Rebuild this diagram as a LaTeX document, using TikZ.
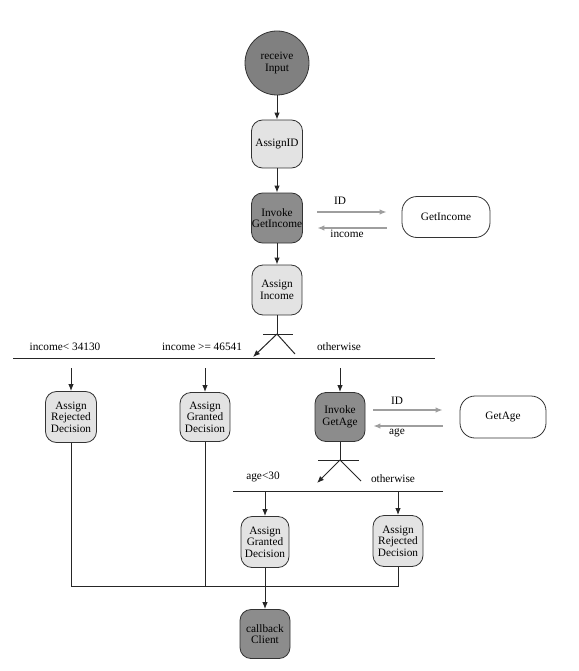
\documentclass[tikz,border=0pt]{standalone}
\usepackage{fontspec}
\setmainfont{Liberation Serif}
\usetikzlibrary{arrows.meta,calc}
\begin{document}
\begin{tikzpicture}[x=1pt,y=-1pt,
 font=\fontsize{11.3}{11.5}\selectfont,
 base/.style={draw=black!80, line width=0.8pt, align=center, inner sep=0pt},
 light/.style={base, fill=black!11, rounded corners=11pt, minimum width=50pt, minimum height=50pt},
 dark/.style={base, fill=black!45, rounded corners=11pt, minimum width=50pt, minimum height=50pt},
 service/.style={base, fill=white, rounded corners=15pt},
 flow/.style={draw=black!85, line width=1pt, -{Latex[length=7pt,width=5.5pt]}},
 plain/.style={draw=black!85, line width=1pt},
 msg/.style={draw=black!38, line width=1.3pt, -{Latex[length=7pt,width=5.5pt]}},
 lbl/.style={inner sep=0pt}]
\useasboundingbox (0,0) rectangle (578,671);

% top column
\node[circle, base, fill=black!50, minimum size=64pt] (recv) at (277,63) {receive\\Input};
\node[light, minimum width=51pt, minimum height=48pt] (aid) at (277,144) {AssignID};
\node[dark, minimum width=51pt] (invinc) at (277,218) {Invoke\\GetIncome};
\node[service, minimum width=88pt, minimum height=41pt] (getinc) at (446,217) {GetIncome};
\node[light] (ainc) at (277,290) {Assign\\Income};

\draw[flow] (recv) -- (aid);
\draw[flow] (aid) -- (invinc);
\draw[flow] (invinc) -- (ainc);

\draw[msg, shorten <=14.5pt, shorten >=15pt] (invinc.east |- 0,212) -- (getinc.west |- 0,212);
\draw[msg, shorten <=15pt, shorten >=14.5pt] (getinc.west |- 0,228) -- (invinc.east |- 0,228);
\node[lbl] (lid1) at (340,201) {ID};
\node[lbl] (linc) at (347,234) {income};

% fork 1
\coordinate (f1) at (277,334);
\coordinate (f1l) at (263,334);
\coordinate (f1r) at (293,334);
\coordinate (f1a) at (253,357);
\coordinate (f1b) at (295,354);
\draw[plain] (ainc) -- (f1);
\draw[plain] (f1l) -- (f1r);
\draw[flow] (f1) -- (f1a);
\draw[plain] (f1) -- (f1b);

\coordinate (l1a) at (13,358);
\coordinate (l1b) at (435,358);
\draw[plain] (l1a) -- (l1b);
\node[lbl] (c1) at (65,347) {income< 34130};
\node[lbl] (c2) at (202,347) {income >= 46541};
\node[lbl] (c3) at (339,347) {otherwise};

% row 2
\node[light, minimum width=51pt, minimum height=51pt] (rej1) at (71,417) {Assign\\Rejected\\Decision};
\node[light, minimum height=49pt] (gr1) at (205,417) {Assign\\Granted\\Decision};
\node[dark, minimum height=49pt] (invage) at (340,417) {Invoke\\GetAge};
\node[service, minimum width=86pt, minimum height=42pt] (getage) at (503,417) {GetAge};

\coordinate (s1) at (71,368);
\coordinate (s2) at (205,368);
\coordinate (s3) at (340,368);
\draw[flow] (s1) -- (rej1);
\draw[flow] (s2) -- (gr1);
\draw[flow] (s3) -- (invage);

\draw[msg, shorten <=8pt, shorten >=17pt] (invage.east |- 0,410) -- (getage.west |- 0,410);
\draw[msg, shorten <=17pt, shorten >=8pt] (getage.west |- 0,426) -- (invage.east |- 0,426);
\node[lbl] (lid2) at (397,401) {ID};
\node[lbl] (lage) at (397,433) {age};

% fork 2
\coordinate (f2) at (340,460);
\coordinate (f2l) at (318,460);
\coordinate (f2r) at (359,460);
\coordinate (f2a) at (317,483);
\coordinate (f2b) at (361,481);
\draw[plain] (invage) -- (f2);
\draw[plain] (f2l) -- (f2r);
\draw[flow] (f2) -- (f2a);
\draw[plain] (f2) -- (f2b);

\coordinate (l2a) at (233,491);
\coordinate (l2b) at (443,491);
\draw[plain] (l2a) -- (l2b);
\node[lbl] (c4) at (263,477) {age<30};
\node[lbl] (c5) at (393,479) {otherwise};

% row 3
\node[light, minimum width=48pt, minimum height=51pt] (gr2) at (265,542) {Assign\\Granted\\Decision};
\node[light, minimum height=51pt] (rej2) at (398,541) {Assign\\Rejected\\Decision};
\coordinate (s4) at (265,491);
\coordinate (s5) at (398,491);
\draw[flow] (s4) -- (gr2);
\draw[flow] (s5) -- (rej2);

% join
\coordinate (b1) at (71,586);
\coordinate (b2) at (398,586);
\coordinate (b3) at (205,586);
\draw[plain] (rej1) -- (b1) -- (b2) -- (rej2);
\draw[plain] (gr1) -- (b3);

\node[dark, minimum height=49pt] (cb) at (265,634) {callback\\Client};
\draw[flow] (gr2) -- (cb);
\end{tikzpicture}
\end{document}
